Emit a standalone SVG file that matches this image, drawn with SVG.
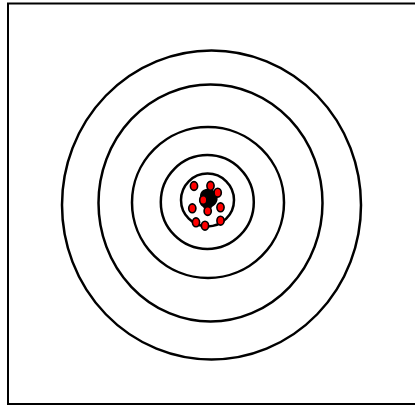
<svg xmlns="http://www.w3.org/2000/svg" width="415" height="406" viewBox="0 0 415 406">
<style>
.ring{fill:none;stroke:#000;stroke-width:2.5}
.dot{fill:#f00;stroke:#000;stroke-width:1.6}
</style>
<rect x="0" y="0" width="415" height="406" fill="#fff"/>
<rect x="8" y="3.5" width="412" height="400.5" fill="none" stroke="#000" stroke-width="2"/>
<g id="rings">
<ellipse class="ring" cx="211.5" cy="205" rx="149.5" ry="154.5"/>
<ellipse class="ring" cx="210.5" cy="203" rx="112" ry="118.5"/>
<ellipse class="ring" cx="208" cy="202.5" rx="76" ry="75.5"/>
<ellipse class="ring" cx="207.3" cy="202" rx="46.5" ry="47"/>
<ellipse class="ring" cx="207.5" cy="200" rx="26.5" ry="26.5"/>
</g>
<g id="blob">
<path d="M200,196 C200,190 206,188 210,189 C214,190 216,192 217,196 C219,200 216,205 212,207 C210,212 205,211 203,207 C199,205 199,200 200,196 Z" fill="#000"/>
</g>
<g id="dots">
<ellipse class="dot" cx="194" cy="186" rx="3.6" ry="4.4"/>
<ellipse class="dot" cx="210.5" cy="185.8" rx="3.6" ry="4.4"/>
<ellipse class="dot" cx="217.7" cy="192.7" rx="3.6" ry="4.4"/>
<ellipse class="dot" cx="203.3" cy="200" rx="3.6" ry="4.4"/>
<ellipse class="dot" cx="192.3" cy="208.3" rx="3.6" ry="4.4"/>
<ellipse class="dot" cx="220.5" cy="207.3" rx="3.6" ry="4.4"/>
<ellipse class="dot" cx="207.7" cy="211" rx="3.6" ry="4.4"/>
<ellipse class="dot" cx="196" cy="222.3" rx="3.6" ry="4.4"/>
<ellipse class="dot" cx="205" cy="225.7" rx="3.6" ry="4.4"/>
<ellipse class="dot" cx="220.5" cy="220.7" rx="3.6" ry="4.4"/>
</g>
</svg>
